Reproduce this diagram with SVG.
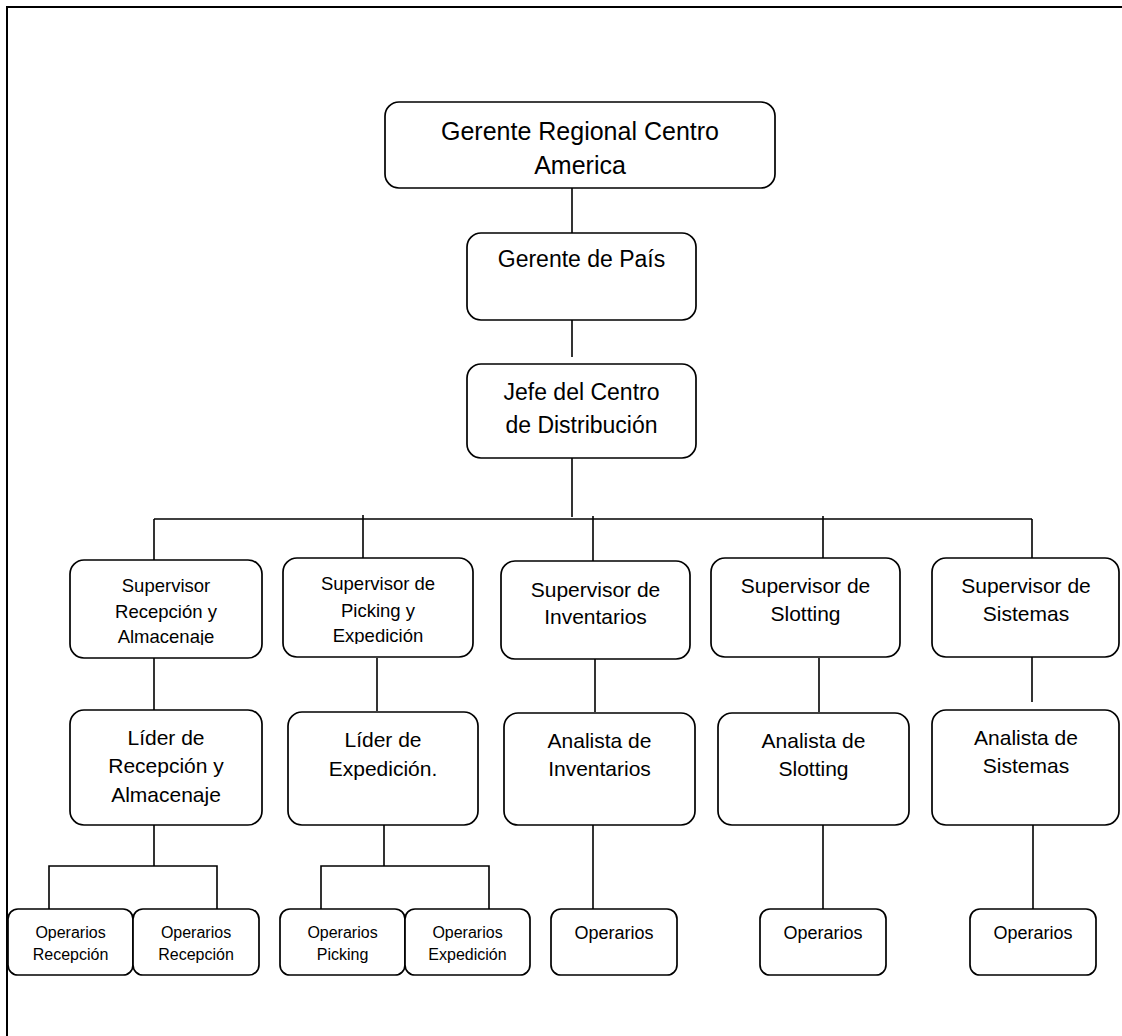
<svg xmlns="http://www.w3.org/2000/svg" width="1122" height="1036" viewBox="0 0 1122 1036">
  <style>
    .box { fill: #ffffff; stroke: #000000; stroke-width: 1.7; }
    .wire { fill: none; stroke: #000000; stroke-width: 1.6; }
    .frame { fill: none; stroke: #000000; stroke-width: 2; }
    text { font-family: "Liberation Sans", Arial, sans-serif; fill: #000000; text-anchor: middle; }
    .t25 { font-size: 25px; }
    .t23 { font-size: 23px; }
    .t21 { font-size: 21px; }
    .t185 { font-size: 18.5px; }
    .t18 { font-size: 18px; }
    .t16 { font-size: 16px; }
  </style>
  <defs>
    <clipPath id="clipRecep"><rect x="70" y="560" width="192" height="85"/></clipPath>
    <clipPath id="clipPick"><rect x="283" y="558" width="190" height="86"/></clipPath>
  </defs>

  <rect width="1122" height="1036" fill="#ffffff"/>
  <!-- page border (top and left edges) -->
  <path class="frame" d="M7 1036 V7 H1122"/>

  <g id="connectors">
    <path class="wire" d="M572 188 V233"/>
    <path class="wire" d="M572 320 V357"/>
    <path class="wire" d="M572 451 V517"/>
    <path class="wire" d="M154 519 H1032"/>
    <path class="wire" d="M154 519 V563"/>
    <path class="wire" d="M363 515 V560"/>
    <path class="wire" d="M593 516 V562"/>
    <path class="wire" d="M823 516 V560"/>
    <path class="wire" d="M1032 519 V563"/>
    <path class="wire" d="M154 648 V712"/>
    <path class="wire" d="M377 658 V711"/>
    <path class="wire" d="M595 659 V712"/>
    <path class="wire" d="M819 658 V712"/>
    <path class="wire" d="M1032 650 V702"/>
    <path class="wire" d="M154 822 V866 M49 909 V866 H217 V909"/>
    <path class="wire" d="M384 822 V866 M321 909 V866 H489 V909"/>
    <path class="wire" d="M593 822 V909"/>
    <path class="wire" d="M823 822 V909"/>
    <path class="wire" d="M1033 822 V909"/>
  </g>

  <g id="gerente-regional">
    <rect class="box" x="385" y="102" width="390" height="86" rx="14"/>
    <text class="t25" x="580" y="140">Gerente Regional Centro</text>
    <text class="t25" x="580" y="174">America</text>
  </g>

  <g id="gerente-pais">
    <rect class="box" x="467" y="233" width="229" height="87" rx="14"/>
    <text class="t23" x="581.5" y="267">Gerente de País</text>
  </g>

  <g id="jefe-cd">
    <rect class="box" x="467" y="364" width="229" height="94" rx="14"/>
    <text class="t23" x="581.5" y="400">Jefe del Centro</text>
    <text class="t23" x="581.5" y="433">de Distribución</text>
  </g>

  <g id="sup-recepcion">
    <rect class="box" x="70" y="560" width="192" height="98" rx="14"/>
    <g clip-path="url(#clipRecep)">
      <text class="t185" x="166" y="592">Supervisor</text>
      <text class="t185" x="166" y="618">Recepción y</text>
      <text class="t185" x="166" y="643">Almacenaje</text>
    </g>
  </g>

  <g id="sup-picking">
    <rect class="box" x="283" y="558" width="190" height="99" rx="14"/>
    <g clip-path="url(#clipPick)">
      <text class="t185" x="378" y="590">Supervisor de</text>
      <text class="t185" x="378" y="617">Picking y</text>
      <text class="t185" x="378" y="642">Expedición</text>
    </g>
  </g>

  <g id="sup-inventarios">
    <rect class="box" x="501" y="561" width="189" height="98" rx="14"/>
    <text class="t21" x="595.5" y="597">Supervisor de</text>
    <text class="t21" x="595.5" y="624">Inventarios</text>
  </g>

  <g id="sup-slotting">
    <rect class="box" x="711" y="558" width="189" height="99" rx="14"/>
    <text class="t21" x="805.5" y="593">Supervisor de</text>
    <text class="t21" x="805.5" y="621">Slotting</text>
  </g>

  <g id="sup-sistemas">
    <rect class="box" x="932" y="558" width="187" height="99" rx="14"/>
    <text class="t21" x="1026" y="593">Supervisor de</text>
    <text class="t21" x="1026" y="621">Sistemas</text>
  </g>

  <g id="lider-recepcion">
    <rect class="box" x="70" y="710" width="192" height="115" rx="14"/>
    <text class="t21" x="166" y="745">Líder de</text>
    <text class="t21" x="166" y="773">Recepción y</text>
    <text class="t21" x="166" y="802">Almacenaje</text>
  </g>

  <g id="lider-expedicion">
    <rect class="box" x="288" y="712" width="190" height="113" rx="14"/>
    <text class="t21" x="383" y="747">Líder de</text>
    <text class="t21" x="383" y="776">Expedición.</text>
  </g>

  <g id="analista-inventarios">
    <rect class="box" x="504" y="713" width="191" height="112" rx="14"/>
    <text class="t21" x="599.5" y="748">Analista de</text>
    <text class="t21" x="599.5" y="776">Inventarios</text>
  </g>

  <g id="analista-slotting">
    <rect class="box" x="718" y="713" width="191" height="112" rx="14"/>
    <text class="t21" x="813.5" y="748">Analista de</text>
    <text class="t21" x="813.5" y="776">Slotting</text>
  </g>

  <g id="analista-sistemas">
    <rect class="box" x="932" y="710" width="187" height="115" rx="14"/>
    <text class="t21" x="1026" y="745">Analista de</text>
    <text class="t21" x="1026" y="773">Sistemas</text>
  </g>

  <g id="op-recepcion-1">
    <rect class="box" x="8" y="909" width="125" height="66" rx="10"/>
    <text class="t16" x="70.5" y="938">Operarios</text>
    <text class="t16" x="70.5" y="960">Recepción</text>
  </g>

  <g id="op-recepcion-2">
    <rect class="box" x="133" y="909" width="126" height="66" rx="10"/>
    <text class="t16" x="196" y="938">Operarios</text>
    <text class="t16" x="196" y="960">Recepción</text>
  </g>

  <g id="op-picking">
    <rect class="box" x="280" y="909" width="125" height="66" rx="10"/>
    <text class="t16" x="342.5" y="938">Operarios</text>
    <text class="t16" x="342.5" y="960">Picking</text>
  </g>

  <g id="op-expedicion">
    <rect class="box" x="405" y="909" width="125" height="66" rx="10"/>
    <text class="t16" x="467.5" y="938">Operarios</text>
    <text class="t16" x="467.5" y="960">Expedición</text>
  </g>

  <g id="op-inventarios">
    <rect class="box" x="551" y="909" width="126" height="66" rx="10"/>
    <text class="t18" x="614" y="939">Operarios</text>
  </g>

  <g id="op-slotting">
    <rect class="box" x="760" y="909" width="126" height="66" rx="10"/>
    <text class="t18" x="823" y="939">Operarios</text>
  </g>

  <g id="op-sistemas">
    <rect class="box" x="970" y="909" width="126" height="66" rx="10"/>
    <text class="t18" x="1033" y="939">Operarios</text>
  </g>
</svg>
